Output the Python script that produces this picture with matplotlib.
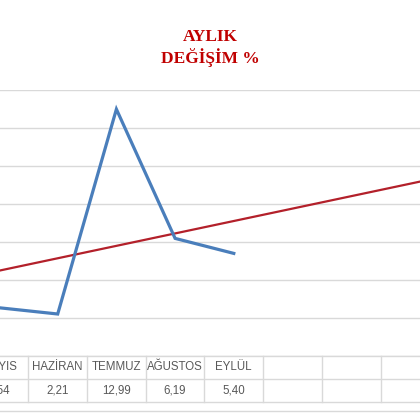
import numpy as np
import matplotlib
matplotlib.use('Agg')
import matplotlib.pyplot as plt
from matplotlib.lines import Line2D

# months shown in the chart (empty columns after EYLÜL)
months = ['MAYIS', 'HAZİRAN', 'TEMMUZ', 'AĞUSTOS', 'EYLÜL', '', '', '']
values = [2.54, 2.21, 12.99, 6.19, 5.40]

# linear trend line at category 0 and 8
trend_x = [0, 8]
trend_y = [4.49, 9.72]

y_ticks = [0, 2, 4, 6, 8, 10, 12, 14]

fig = plt.figure(figsize=(4.2, 4.2), dpi=100)
W = H = 420.0

# plot area in pixels: top 90, bottom 356
ax = fig.add_axes([0, (H - 356) / H, 1, 266 / H])
ax.set_xlim(1 / 58.7, 421 / 58.7)
ax.set_ylim(0, 14)

for t in y_ticks:
    ax.axhline(t, color='#D9D9D9', lw=1, zorder=1)

ax.plot(trend_x, trend_y, color='#B3202A', lw=1.6, zorder=3)
ax.plot(range(len(values)), values, color='#4A7EBB', lw=2.3, zorder=4,
        solid_joinstyle='miter')

ax.axis('off')

# data table under the plot
def px_x(i):
    return (-1 + 58.7 * i) / W

row_tops = [356, 379, 402]
for y in row_tops:
    fig.add_artist(Line2D([0, 1], [(H - y) / H] * 2, color='#D9D9D9', lw=1))
fig.add_artist(Line2D([0, 1], [(H - 411) / H] * 2, color='#D9D9D9', lw=1))
for i in range(len(months) + 1):
    xb = px_x(i - 0.5)
    fig.add_artist(Line2D([xb, xb], [(H - 356) / H, (H - 402) / H],
                          color='#D9D9D9', lw=1))

for i, m in enumerate(months):
    fig.text(px_x(i), (H - 367.5) / H, m, ha='center', va='center',
             fontsize=8.3, color='#595959', family='Liberation Sans')
for i, v in enumerate(values):
    fig.text(px_x(i), (H - 390.5) / H, f'{v:.2f}'.replace('.', ','),
             ha='center', va='center', fontsize=8.3, color='#595959',
             family='Liberation Sans')

fig.text(210 / W, (H - 48) / H, 'AYLIK\nDEĞİŞİM %', ha='center', va='center',
         fontsize=12.5, fontweight='bold', color='#C00000',
         family='Liberation Serif', linespacing=1.15)

fig.savefig('out.png', dpi=100, facecolor='white')
